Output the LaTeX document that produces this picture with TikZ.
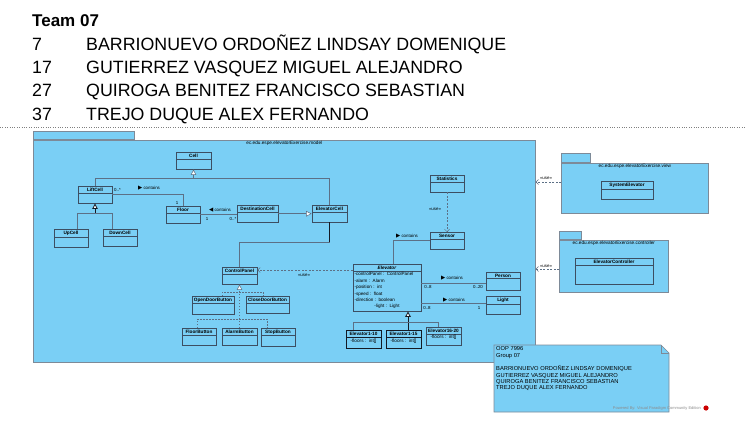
\documentclass[tikz,border=0pt]{standalone}
\usepackage{fontspec}
\setmainfont{Liberation Sans}
\newfontfamily\symfont{DejaVu Sans}
\usetikzlibrary{arrows.meta,shapes.multipart}
\definecolor{vpblue}{RGB}{122,207,245}
\definecolor{clsline}{RGB}{60,78,98}
\definecolor{pkgline}{RGB}{125,138,152}
\definecolor{wire}{RGB}{92,112,134}
\definecolor{darkwire}{RGB}{20,26,36}
\definecolor{notegray}{RGB}{140,140,140}

\begin{document}
\begin{tikzpicture}[x=1pt, y=-1pt,
	cls/.style={rectangle split, rectangle split parts=2, draw=clsline, fill=vpblue,
		line width=0.6pt, text width=#1, align=center, inner xsep=1.5pt, inner ysep=1.3pt,
		anchor=north, font=\fontsize{4.7}{5.6}\selectfont\bfseries,
		rectangle split empty part height=7pt},
	cls/.default=31pt,
	pkg/.style={draw=pkgline, fill=vpblue, line width=0.7pt, inner sep=0pt},
	pkglabel/.style={font=\fontsize{4.7}{5}\selectfont, inner sep=1pt, anchor=north},
	lbl/.style={font=\fontsize{4.4}{5}\selectfont, inner sep=0pt},
	assoc/.style={draw=wire, line width=0.5pt},
	strong/.style={draw=darkwire, line width=0.8pt},
	gen/.style={-{Triangle[fill=white, length=5.5pt, width=5.5pt]}},
	dep/.style={draw=wire, line width=0.5pt, dash pattern=on 2pt off 1.5pt,
		-{Straight Barb[length=2.5pt, width=5pt]}},
	real/.style={draw=wire, line width=0.5pt, dash pattern=on 1.5pt off 1.5pt},
	member/.style={font=\fontsize{17.8}{20}\selectfont, anchor=base west, inner sep=0pt},
]
	\useasboundingbox (0,0) rectangle (745,423);
	
	%team header
	\node[member, font=\fontsize{17}{20}\selectfont\bfseries] (team) at (32,27) {Team 07};
	\foreach \num/\who [count=\i from 0] in {7/BARRIONUEVO ORDOÑEZ LINDSAY DOMENIQUE,
		17/GUTIERREZ VASQUEZ MIGUEL ALEJANDRO, 27/QUIROGA BENITEZ FRANCISCO SEBASTIAN,
		37/TREJO DUQUE ALEX FERNANDO}{
		\node[member] (num\i) at (32, {50+23.4*\i}) {\num};
		\node[member] (who\i) at (86, {50+23.4*\i}) {\who};
	}
	\draw[gray, dotted] (0,127) -- (745,127);
	
	%packages
	\node[pkg, anchor=north west, minimum width=502pt, minimum height=222pt] (model) at (33,140) {};
	\node[pkg, anchor=south west, minimum width=101pt, minimum height=8pt] (modeltab) at (model.north west) {};
	\node[pkglabel] (modellabel) at (model.north) {ec.edu.espe.elevatorExercise.model};
	
	\node[pkg, anchor=north west, minimum width=147pt, minimum height=50pt] (view) at (561,163) {};
	\node[pkg, anchor=south west, minimum width=29pt, minimum height=9pt] (viewtab) at (view.north west) {};
	\node[pkglabel] (viewlabel) at (view.north) {ec.edu.espe.elevatorExercise.view};
	
	\node[pkg, anchor=north west, minimum width=109pt, minimum height=52pt] (ctrlpkg) at (559,240) {};
	\node[pkg, anchor=south west, minimum width=22pt, minimum height=8pt] (ctrltab) at (ctrlpkg.north west) {};
	\node[pkglabel] (ctrllabel) at (ctrlpkg.north) {ec.edu.espe.elevatorExercise.controller};
	
	%classes
	\node[cls=32pt] (cell) at (193.5,152) {Cell};
	\node[cls, rectangle split empty part height=6pt] (liftcell) at (95,186) {LiftCell};
	\node[cls] (upcell) at (71,229) {UpCell};
	\node[cls] (downcell) at (120,229) {DownCell};
	\node[cls] (floor) at (183,206) {Floor};
	\node[cls=38pt] (destcell) at (257.5,205) {DestinationCell};
	\node[cls=32pt] (elevcell) at (329.5,205) {ElevatorCell};
	\node[cls] (stats) at (447,175) {Statistics};
	\node[cls] (sensor) at (447,232) {Sensor};
	\node[cls=32pt, rectangle split empty part height=6pt] (ctrlpanel) at (239.5,267) {ControlPanel};
	\node[cls=39pt] (opendoor) at (213,296) {OpenDoorButton};
	\node[cls=40pt] (closedoor) at (267.5,296) {CloseDoorButton};
	\node[cls] (floorbtn) at (199,328) {FloorButton};
	\node[cls=32pt] (alarmbtn) at (239.5,328) {AlarmButton};
	\node[cls] (stopbtn) at (278,328) {StopButton};
	\node[cls=65pt] (elevator) at (387,264) {\textit{Elevator}
		\nodepart{two}\raggedright\mdseries\fontsize{4.6}{6.5}\selectfont
		-controlPanel : ControlPanel\\-alarm : Alarm\\-position : int\\-speed : float\\
		-direction : boolean\\-light : Light\rule[-2pt]{0pt}{1pt}};
	\node[cls, rectangle split empty part height=8pt] (person) at (503,272) {Person};
	\node[cls] (light) at (503,296) {Light};
	\node[cls=32pt, line width=0.8pt, draw=darkwire] (elev110) at (363.5,330) {Elevator1-10
		\nodepart{two}\raggedright\mdseries -floors : int[]\rule[-4pt]{0pt}{1pt}};
	\node[cls=32pt, line width=0.8pt, draw=darkwire] (elev115) at (403.5,330) {Elevator1-15
		\nodepart{two}\raggedright\mdseries -floors : int[]\rule[-4pt]{0pt}{1pt}};
	\node[cls=32pt] (elev1620) at (443.5,327) {Elevator16-20
		\nodepart{two}\raggedright\mdseries -floors : int[]\rule[-5pt]{0pt}{1pt}};
	\node[cls=49pt] (syselev) at (627,181) {SystemElevator};
	\node[cls=75pt, rectangle split empty part height=16pt] (elevctrl) at (614,258) {ElevatorController};
	
	%connectors
	\draw[assoc] (liftcell.north) -- ++(0,-8) -| (elevcell.north);
	\draw[assoc, gen] (cell.south |- 0,178) -- (cell.south);
	\draw[strong, gen] (liftcell.south |- 0,213) -- (liftcell.south);
	\draw[assoc] (upcell.north -| 77,0) -- ++(0,-16) -| (downcell.north -| 112,0);
	\draw[assoc] (liftcell.east) -| (floor.north);
	\draw[assoc] (floor.east) -- (floor.east -| destcell.west);
	\draw[assoc, gen] (destcell.east) -- (elevcell.west);
	\draw[strong] (elevcell.south) -- ++(0,20) coordinate (ecbend);
	\draw[assoc] (ecbend) -| (ctrlpanel.north);
	\draw[dep] (stats.south) -- (sensor.north);
	\draw[assoc] (sensor.west) -| (elevator.north -| 393,0);
	\draw[dep] (elevator.west |- 0,270) -- (ctrlpanel.east |- 0,270);
	\draw[real, gen] (alarmbtn.north) -- (ctrlpanel.south);
	\draw[real] (opendoor.north -| 222,0) -- ++(0,-4) -| (closedoor.north -| 263,0);
	\draw[real] (floorbtn.north -| 197,0) -- ++(0,-9) -| (stopbtn.north -| 267,0);
	\draw[assoc] (elevator.east |- 0,283) -- (person.west |- 0,283);
	\draw[assoc] (elevator.east |- 0,303) -- (light.west |- 0,303);
	\draw[strong, gen] (elev115.north -| 408,0) -- (elevator.south -| 408,0);
	\draw[assoc] (elev110.north -| 353,0) -- ++(0,-8) -| (elev1620.north -| 438,0);
	\draw[dep] (view.west |- 0,182) -- (model.east |- 0,182);
	\draw[dep] (ctrlpkg.west |- 0,269) -- (model.east |- 0,269);
	
	%connector labels
	\node[lbl, anchor=west] (m1) at (114,190) {0..*};
	\node[lbl] (c1) at (149,188) {{\symfont\fontsize{5.5}{5}\selectfont ▶} contains};
	\node[lbl] (m2) at (177,203) {1};
	\node[lbl] (c2) at (220,210) {{\symfont\fontsize{5.5}{5}\selectfont ◀} contains};
	\node[lbl] (m3) at (207,219) {1};
	\node[lbl] (m4) at (233,219) {0..*};
	\node[lbl] (c3) at (407,236) {{\symfont\fontsize{5.5}{5}\selectfont ▶} contains};
	\node[lbl] (u1) at (435,209) {«use»};
	\node[lbl] (u2) at (304,275) {«use»};
	\node[lbl] (c4) at (452,278) {{\symfont\fontsize{5.5}{5}\selectfont ▶} contains};
	\node[lbl] (m5) at (428,287) {0..8};
	\node[lbl] (m6) at (478,287) {0..20};
	\node[lbl] (c5) at (454,300) {{\symfont\fontsize{5.5}{5}\selectfont ▶} contains};
	\node[lbl] (m7) at (427,308) {0..8};
	\node[lbl] (m8) at (479,308) {1};
	\node[lbl] (u3) at (546,178) {«use»};
	\node[lbl] (u4) at (546,266) {«use»};
	
	%note
	\draw[draw=pkgline, fill=vpblue, line width=0.6pt] (494,345) -- (661,345) -- (669,353) -- (669,412) -- (494,412) -- cycle;
	\draw[draw=pkgline, line width=0.5pt] (661,345) -- (661,353) -- (669,353);
	\node[anchor=north west, align=left, inner sep=0pt, font=\fontsize{5.75}{6.35}\selectfont] (notebody) at (496,346.5)
		{OOP 7996\\Group 07\\[7.5pt]BARRIONUEVO ORDOÑEZ LINDSAY DOMENIQUE\\GUTIERREZ VASQUEZ MIGUEL ALEJANDRO\\
		QUIROGA BENITEZ FRANCISCO SEBASTIAN\\TREJO DUQUE ALEX FERNANDO};
	\node[anchor=east, inner sep=0pt, text=notegray, font=\fontsize{4}{5}\selectfont] (powered) at (701,408)
		{Powered By: Visual Paradigm Community Edition};
	\fill[red!80!black] (706,408) circle (2.6pt);
\end{tikzpicture}
\end{document}
